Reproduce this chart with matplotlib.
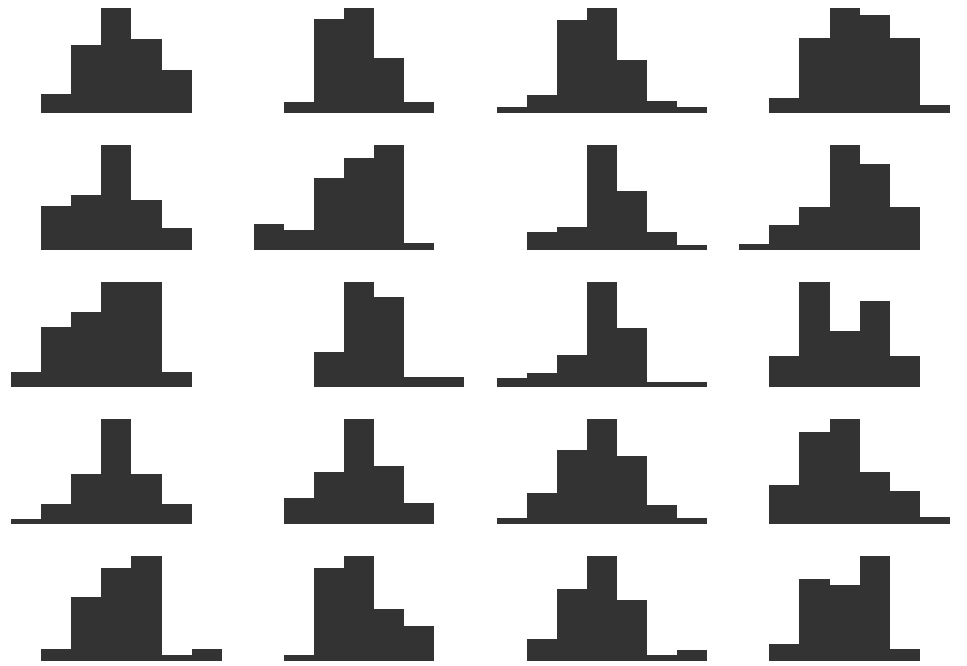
import numpy as np
import matplotlib
matplotlib.use("Agg")
import matplotlib.pyplot as plt

# bin edges shared by every panel
bin_edges = np.arange(-3.5, 4.0, 1.0)

# counts per bin (100 samples each), one list per row, 4 panels per row
row1 = [[0, 6, 22, 34, 24, 14, 0],
        [0, 4, 34, 38, 20, 4, 0],
        [2, 6, 32, 36, 18, 4, 2],
        [0, 4, 20, 28, 26, 20, 2]]
row2 = [[0, 16, 20, 38, 18, 8, 0],
        [8, 6, 22, 28, 32, 2, 0],
        [0, 8, 10, 46, 26, 8, 2],
        [2, 8, 14, 34, 28, 14, 0]]
row3 = [[4, 16, 20, 28, 28, 4, 0],
        [0, 0, 14, 42, 36, 4, 4],
        [4, 6, 14, 46, 26, 2, 2],
        [0, 10, 34, 18, 28, 10, 0]]
row4 = [[2, 8, 20, 42, 20, 8, 0],
        [0, 10, 20, 40, 22, 8, 0],
        [2, 10, 24, 34, 22, 6, 2],
        [0, 12, 28, 32, 16, 10, 2]]
row5 = [[0, 4, 22, 32, 36, 2, 4],
        [0, 2, 32, 36, 18, 12, 0],
        [0, 8, 26, 38, 22, 2, 4],
        [0, 6, 28, 26, 36, 4, 0]]

rows = [row1, row2, row3, row4, row5]
centers = (bin_edges[:-1] + bin_edges[1:]) / 2

fig, axes = plt.subplots(5, 4, figsize=(9.67, 6.66), dpi=100)
fig.subplots_adjust(left=11 / 967, right=950 / 967, top=1 - 8 / 666,
                    bottom=1 - 661 / 666, wspace=0.152, hspace=0.305)

for i, row in enumerate(rows):
    for j, counts in enumerate(row):
        ax = axes[i, j]
        ax.hist(centers, bins=bin_edges, weights=counts, color="#333333")
        ax.set_xlim(bin_edges[0], bin_edges[-1])
        ax.set_ylim(0, max(counts))
        ax.axis("off")

plt.savefig("out.png", dpi=100)
